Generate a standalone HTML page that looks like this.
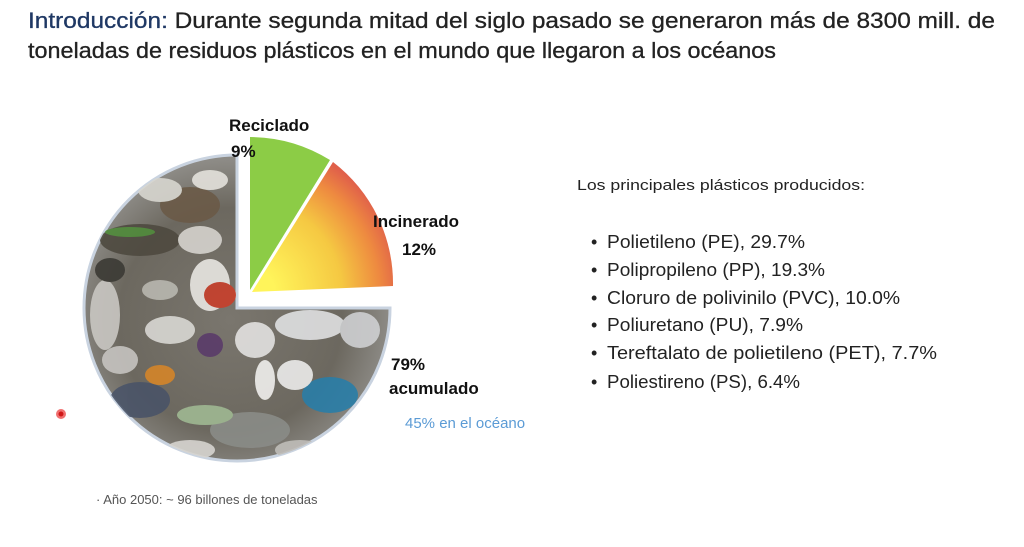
<!DOCTYPE html>
<html><head><meta charset="utf-8"><style>
html,body{margin:0;padding:0;background:#fff;}
svg{display:block;font-family:"Liberation Sans",sans-serif;}
</style></head><body>
<svg width="1024" height="547" viewBox="0 0 1024 547" xmlns="http://www.w3.org/2000/svg">
<defs>
<radialGradient id="org" cx="252" cy="292" r="150" gradientUnits="userSpaceOnUse">
<stop offset="0.15" stop-color="#fff45a"/><stop offset="0.6" stop-color="#f5c842"/><stop offset="0.85" stop-color="#ee8a40"/><stop offset="1" stop-color="#e0604a"/></radialGradient>
<radialGradient id="photo" cx="230" cy="320" r="160" gradientUnits="userSpaceOnUse">
<stop offset="0" stop-color="#7a766e"/><stop offset="0.7" stop-color="#6c685f"/><stop offset="1" stop-color="#8d8b86"/></radialGradient>
<clipPath id="big"><path d="M237 308 L390 308 A153 153 0 1 1 237 155 Z"/></clipPath>
</defs>
<text x="28" y="28" font-size="22" textLength="967" lengthAdjust="spacingAndGlyphs" fill="#222" stroke="#222" stroke-width="0.3"><tspan fill="#1f3864" stroke="#1f3864">Introducción:</tspan> Durante segunda mitad del siglo pasado se generaron más de 8300 mill. de</text>
<text x="28" y="58" font-size="22" textLength="748" lengthAdjust="spacingAndGlyphs" fill="#222" stroke="#222" stroke-width="0.3">toneladas de residuos plásticos en el mundo que llegaron a los océanos</text>

<path d="M237 308 L390 308 A153 153 0 1 1 237 155 Z" fill="url(#photo)" stroke="#c9d3e0" stroke-width="3"/>
<g clip-path="url(#big)" opacity="0.9">
<ellipse cx="190" cy="205" rx="30" ry="18" fill="#6b5a48"/>
<ellipse cx="160" cy="190" rx="22" ry="12" fill="#d8d6d0"/>
<ellipse cx="210" cy="180" rx="18" ry="10" fill="#e4e2dc"/>
<ellipse cx="140" cy="240" rx="40" ry="16" fill="#4e4a40"/>
<ellipse cx="130" cy="232" rx="25" ry="5" fill="#4f8a3a"/>
<ellipse cx="200" cy="240" rx="22" ry="14" fill="#d5d3ce"/>
<ellipse cx="210" cy="285" rx="20" ry="26" fill="#e8e6e2"/>
<ellipse cx="220" cy="295" rx="16" ry="13" fill="#c8402c"/>
<ellipse cx="170" cy="330" rx="25" ry="14" fill="#d9d7d3"/>
<ellipse cx="255" cy="340" rx="20" ry="18" fill="#e3e2e0"/>
<ellipse cx="310" cy="325" rx="35" ry="15" fill="#dfe0e2"/>
<ellipse cx="360" cy="330" rx="20" ry="18" fill="#cfd0d2"/>
<ellipse cx="330" cy="395" rx="28" ry="18" fill="#2a7ea8"/>
<ellipse cx="210" cy="345" rx="13" ry="12" fill="#5a3b6a"/>
<ellipse cx="140" cy="400" rx="30" ry="18" fill="#4a5468"/>
<ellipse cx="250" cy="430" rx="40" ry="18" fill="#8a8c88"/>
<ellipse cx="295" cy="375" rx="18" ry="15" fill="#ececea"/>
<ellipse cx="105" cy="315" rx="15" ry="35" fill="#c9c7c2"/>
<ellipse cx="205" cy="415" rx="28" ry="10" fill="#9fb893"/>
<ellipse cx="120" cy="360" rx="18" ry="14" fill="#c6c4c0"/>
<ellipse cx="160" cy="375" rx="15" ry="10" fill="#d4862a"/>
<ellipse cx="190" cy="450" rx="25" ry="10" fill="#d6d4d0"/>
<ellipse cx="300" cy="450" rx="25" ry="10" fill="#bfbdb8"/>
<ellipse cx="110" cy="270" rx="15" ry="12" fill="#3b3a35"/>
<ellipse cx="160" cy="290" rx="18" ry="10" fill="#b9b7b0"/>
<ellipse cx="265" cy="380" rx="10" ry="20" fill="#f0efed"/>
</g>
<path d="M250 290 L250 137 A153 153 0 0 1 330 160 Z" fill="#8ccc46"/>
<path d="M252 292 L333 162 A153 153 0 0 1 393 286 Z" fill="url(#org)"/>

<g font-weight="bold" font-size="17" fill="#111">
<text x="229" y="131">Reciclado</text>
<text x="231" y="157">9%</text>
<text x="373" y="227">Incinerado</text>
<text x="402" y="255">12%</text>
<text x="391" y="370">79%</text>
<text x="389" y="394">acumulado</text>
</g>
<text x="405" y="428" font-size="15" fill="#5b9bd5">45% en el océano</text>
<text x="96" y="504" font-size="13" fill="#555">·  Año 2050: ~ 96 billones de toneladas</text>
<circle cx="61" cy="414" r="5" fill="#f07070"/><circle cx="61" cy="414" r="2.5" fill="#d01818"/>

<text x="577" y="190" font-size="15" fill="#222" textLength="288" lengthAdjust="spacingAndGlyphs">Los principales plásticos producidos:</text>
<g font-size="18" fill="#222">
<text x="591" y="248">•</text><text x="607" y="248" textLength="198" lengthAdjust="spacingAndGlyphs">Polietileno (PE), 29.7%</text>
<text x="591" y="276">•</text><text x="607" y="276" textLength="218" lengthAdjust="spacingAndGlyphs">Polipropileno (PP), 19.3%</text>
<text x="591" y="304">•</text><text x="607" y="304" textLength="293" lengthAdjust="spacingAndGlyphs">Cloruro de polivinilo (PVC), 10.0%</text>
<text x="591" y="331">•</text><text x="607" y="331" textLength="196" lengthAdjust="spacingAndGlyphs">Poliuretano (PU), 7.9%</text>
<text x="591" y="359">•</text><text x="607" y="359" textLength="330" lengthAdjust="spacingAndGlyphs">Tereftalato de polietileno (PET), 7.7%</text>
<text x="591" y="388">•</text><text x="607" y="388" textLength="193" lengthAdjust="spacingAndGlyphs">Poliestireno (PS), 6.4%</text>
</g>
</svg>
</body></html>
